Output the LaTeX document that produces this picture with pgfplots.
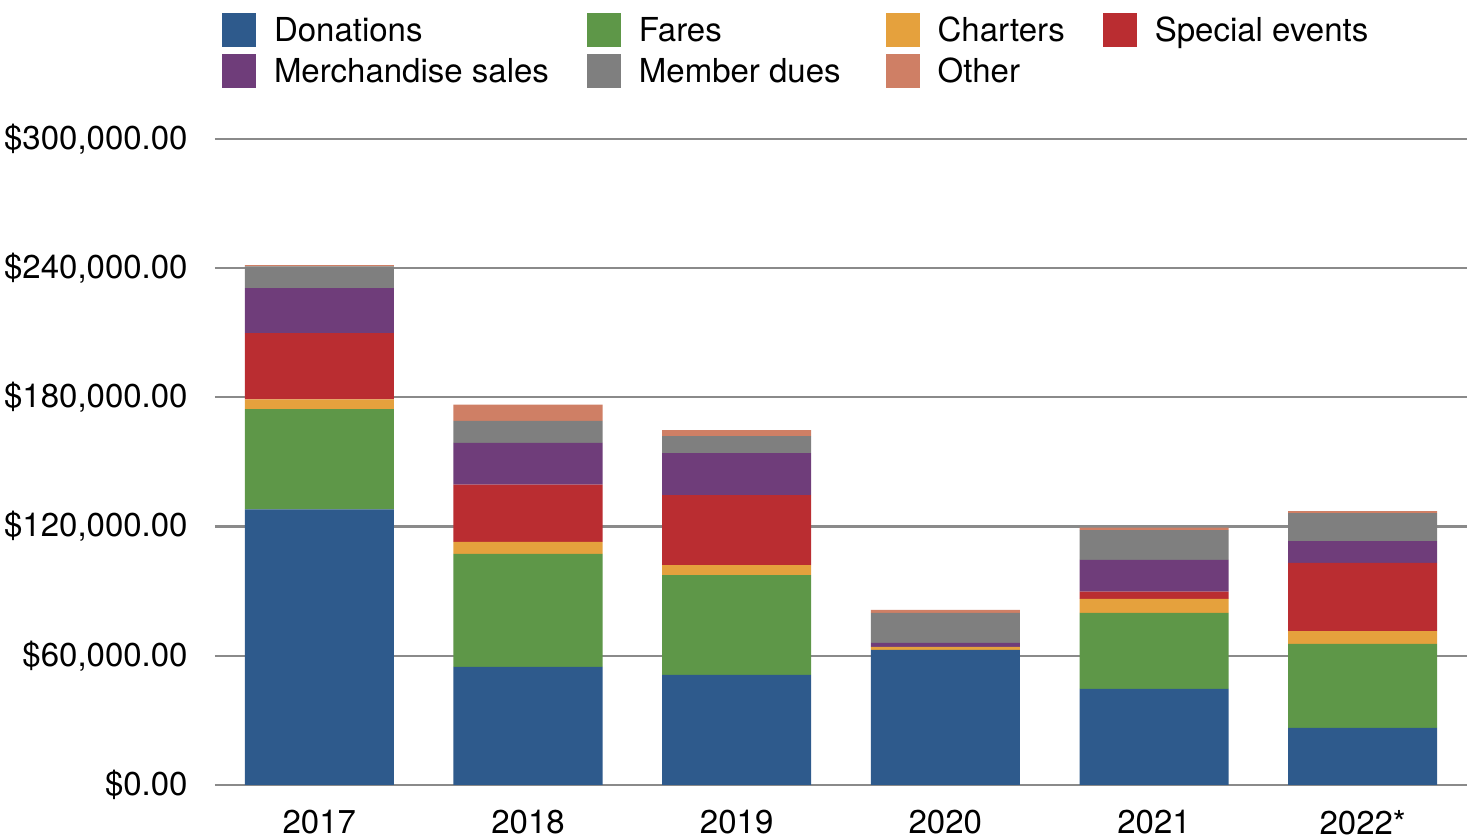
\documentclass[border=0pt]{standalone}
\usepackage{fontspec}
\setmainfont{TeX Gyre Heros}
\usepackage{pgfplots}
\pgfplotsset{compat=1.18}
\definecolor{cDon}{HTML}{2E5A8C}
\definecolor{cFar}{HTML}{5E9748}
\definecolor{cCha}{HTML}{E5A13D}
\definecolor{cSpe}{HTML}{BA2D31}
\definecolor{cMer}{HTML}{6F3D7A}
\definecolor{cMem}{HTML}{7F7F7F}
\definecolor{cOth}{HTML}{CF7F65}
\definecolor{cGrid}{HTML}{8A8A8A}
\begin{document}
\fontsize{16.5}{19.8}\selectfont
\begin{tikzpicture}[font=\fontsize{16.5}{19.8}\selectfont]
\begin{axis}[
  scale only axis, width=626pt, height=323pt,
  at={(0,0)}, anchor=south west,
  ybar stacked, bar width=74.5pt,
  xmin=-0.5, xmax=5.5, ymin=0, ymax=300000,
  scaled y ticks=false,
  xtick={0,1,2,3,4,5},
  xticklabels={2017,2018,2019,2020,2021,2022*},
  ytick={0,60000,120000,180000,240000,300000},
  yticklabels={{\$0.00},{\$60,000.00},{\$120,000.00},{\$180,000.00},{\$240,000.00},{\$300,000.00}},
  axis line style={draw=none}, major tick length=0pt,
  ymajorgrids, grid style={color=cGrid, line width=1.1pt},
  yticklabel style={anchor=east, inner sep=0pt, font=\fontsize{16.5}{19.8}\selectfont},
  yticklabel shift=13.5pt,
  xticklabel style={anchor=north, inner sep=0pt, font=\fontsize{16.5}{19.8}\selectfont},
  xticklabel shift=12.5pt,
  legend columns=4,
  legend image code/.code={\fill[#1] (0pt,-8.5pt) rectangle (17pt,8.5pt);},
  legend style={draw=none, fill=none, inner sep=0pt, outer sep=0pt,
    at={(rel axis cs:0.0056,1.195)}, anchor=north west,
    font=\fontsize{16.5}{19.8}\selectfont,
    row sep=3.5pt,
    nodes={inner sep=0pt, text height=12pt, text depth=0.2pt},
    /tikz/every odd column/.append style={column sep=9pt},
    /tikz/every even column/.append style={column sep=19pt}},
  legend cell align=left,
]
\addplot[fill=cDon, draw=none] coordinates {(0,128000) (1,54800) (2,51100) (3,62700) (4,44600) (5,26500)};
\addplot[fill=cFar, draw=none] coordinates {(0,46500) (1,52500) (2,46400) (3,0) (4,35300) (5,39000)};
\addplot[fill=cCha, draw=none] coordinates {(0,4600) (1,5600) (2,4600) (3,1400) (4,6500) (5,6000)};
\addplot[fill=cSpe, draw=none] coordinates {(0,30800) (1,26600) (2,32500) (3,0) (4,3400) (5,31600)};
\addplot[fill=cMer, draw=none] coordinates {(0,20800) (1,19400) (2,19500) (3,1900) (4,14700) (5,10200)};
\addplot[fill=cMem, draw=none] coordinates {(0,10200) (1,10200) (2,7900) (3,13900) (4,13900) (5,13000)};
\addplot[fill=cOth, draw=none] coordinates {(0,500) (1,7600) (2,2800) (3,1400) (4,1100) (5,900)};
\legend{Donations, Fares, Charters, Special events, Merchandise sales, Member dues\kern3.5pt, Other}
\end{axis}
\pgfresetboundingbox
\useasboundingbox (-107.5pt,-27pt) rectangle (627.5pt,392.5pt);
\end{tikzpicture}
\end{document}
